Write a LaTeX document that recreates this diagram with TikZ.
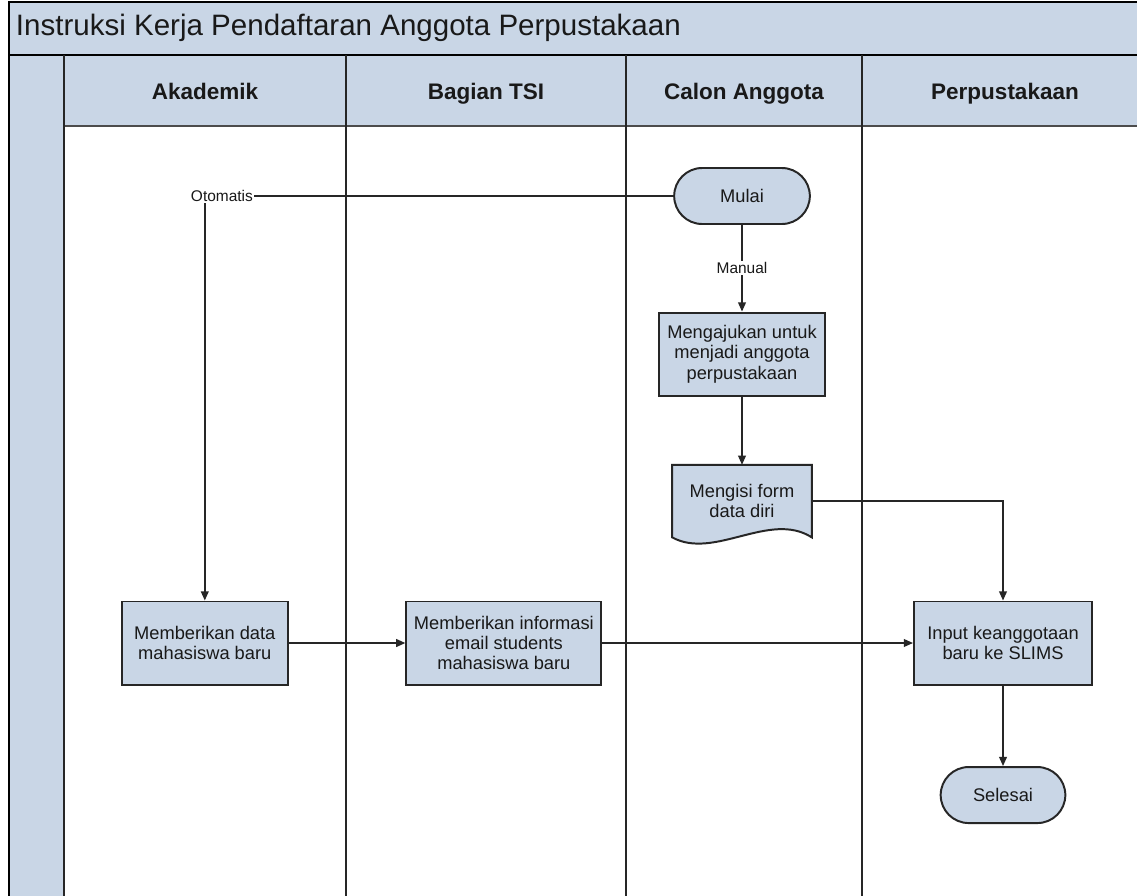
\documentclass[tikz,border=0pt]{standalone}
\usepackage{fontspec}
\setmainfont{Liberation Sans}
\usetikzlibrary{positioning,arrows.meta,shapes.misc,backgrounds}
\definecolor{lanefill}{RGB}{201,214,230}
\tikzset{
  swim/.style={x=0.025cm,y=-0.025cm,on grid,
    every node/.style={font=\fontsize{13}{14.5}\selectfont,text=black!90}},
  conn/.style={->,>={Triangle[length=6.5pt,width=5.5pt]},line width=1.1pt,draw=black!85},
  proc/.style={rectangle,draw=black!85,fill=lanefill,line width=1.4pt,
    minimum width=#1,minimum height=2.075cm,align=center,inner sep=2pt},
  proc/.default=4.15cm,
  term/.style={rounded rectangle,draw=black!85,fill=lanefill,line width=1.4pt,
    minimum width=#1,minimum height=1.4cm},
  docbox/.style={rectangle,minimum width=3.475cm,minimum height=1.8cm,align=center,inner sep=2pt},
  lbl/.style={fill=white,inner sep=1pt,font=\fontsize{11}{13}\selectfont},
  lanehead/.style={anchor=base,font=\fontsize{16}{18}\selectfont\bfseries},
}

\begin{document}
\begin{tikzpicture}[swim]
  \useasboundingbox (0,0) rectangle (1137,895);
  \clip (0,0) rectangle (1137,895);
  \begin{scope}[on background layer]
    \fill[white] (0,0) rectangle (1137,895);
  \end{scope}
  \fill[lanefill] (9,2) rectangle (1160,126);
  \fill[lanefill] (9,126) rectangle (64,900);
  \draw[line width=1pt] (1160,2) -- (9,2) -- (9,900);
  \draw[line width=2pt] (9,55) -- (1160,55);
  \draw[line width=1pt,black!70] (64,126) -- (1160,126);
  \foreach \x in {64,346,626,862}
    \draw[line width=1.5pt,black!85] (\x,55) -- (\x,900);

  \node[anchor=west,font=\fontsize{21}{24}\selectfont] (title) at (11,28)
    {Instruksi Kerja Pendaftaran Anggota Perpustakaan};
  \node[lanehead] (hakad) at (205,99) {Akademik};
  \node[lanehead] (htsi) at (486,99) {Bagian TSI};
  \node[lanehead] (hcalon) at (744,99) {Calon Anggota};
  \node[lanehead] (hpus) at (1005,99) {Perpustakaan};

  \node[term=3.625cm] (mulai) at (742,196) {Mulai};
  \node[proc] (ajukan) [below=3.95cm of mulai] {Mengajukan untuk\\menjadi anggota\\perpustakaan};
  \node[docbox] (form) [below=3.675cm of ajukan] {Mengisi form\\data diri};
  \node[proc=4.45cm] (input) at (1003,643) {Input keanggotaan\\baru ke SLIMS};
  \node[term=3.35cm] (selesai) [below=3.8cm of input] {Selesai};
  \node[proc=4.875cm] (info) [left=12.475cm of input] {Memberikan informasi\\email students\\mahasiswa baru};
  \node[proc] (data) [left=7.475cm of info] {Memberikan data\\mahasiswa baru};

  \begin{scope}[on background layer]
    \draw[draw=black!85,fill=lanefill,line width=1.4pt] (form.north west) -- (form.north east)
      -- (form.south east) .. controls +(-42,-27) and +(42,23) .. (form.south west) -- cycle;
  \end{scope}

  \draw[conn] (mulai.west) -| node[lbl,pos=0.5,anchor=west,xshift=-0.4cm] {Otomatis} (data.north);
  \draw[conn] (mulai) -- node[lbl] {Manual} (ajukan);
  \draw[conn] (ajukan) -- (form);
  \draw[conn] (form.east) -| (input.north);
  \draw[conn] (data) -- (info);
  \draw[conn] (info) -- (input);
  \draw[conn] (input) -- (selesai);
\end{tikzpicture}
\end{document}
